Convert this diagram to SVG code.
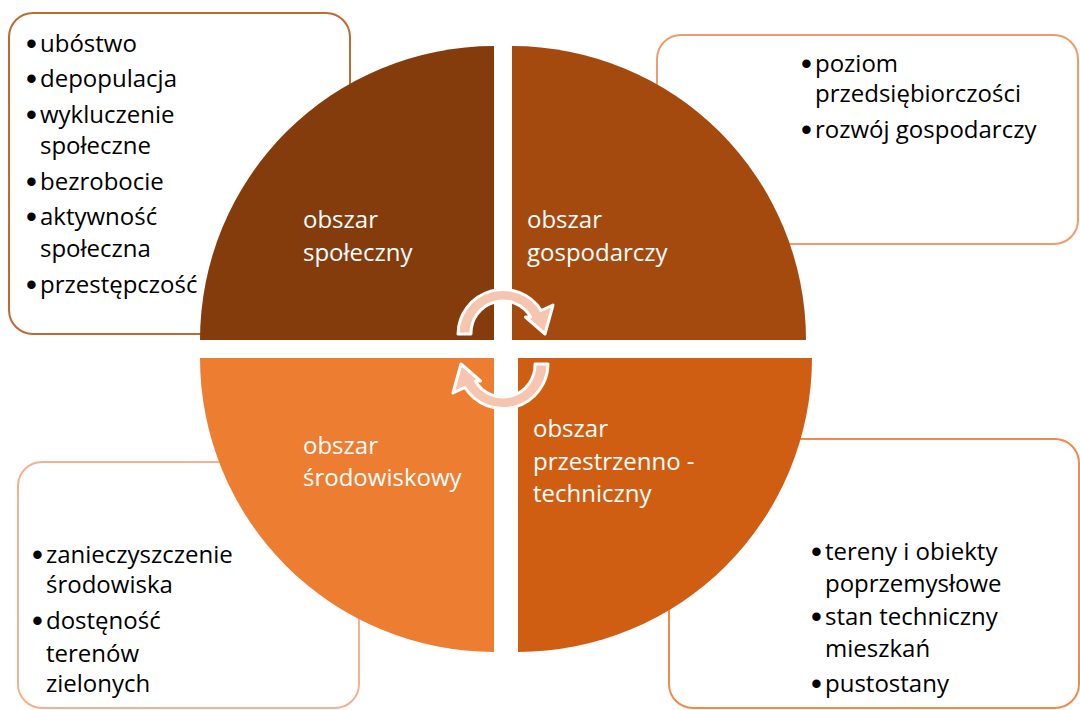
<svg xmlns="http://www.w3.org/2000/svg" width="1080" height="710" viewBox="0 0 1080 710">
<style>
.t{font-family:"Open Sans","Liberation Sans",sans-serif;font-size:24px;fill:#000}
.b{font-family:"Liberation Sans",Arial,sans-serif;font-size:31px;fill:#000}
.w{fill:#fff}
.box{fill:#fff;stroke-width:2}
.arr{fill:#F5C5B0;stroke:#fff;stroke-width:3;stroke-linejoin:round}
</style>
<rect width="1080" height="710" fill="#fff"/>
<g id="box-spoleczny">
<rect class="box" x="9" y="13" width="341" height="321" rx="24" stroke="#BF6A33"/>
<text class="b" x="26" y="54">•</text><text class="t" x="40" y="52">ubóstwo</text>
<text class="b" x="26" y="89">•</text><text class="t" x="40" y="87">depopulacja</text>
<text class="b" x="26" y="125">•</text><text class="t" x="40" y="123">wykluczenie</text>
<text class="t" x="40" y="154">społeczne</text>
<text class="b" x="26" y="192">•</text><text class="t" x="40" y="190">bezrobocie</text>
<text class="b" x="26" y="227">•</text><text class="t" x="40" y="225">aktywność</text>
<text class="t" x="40" y="257">społeczna</text>
<text class="b" x="26" y="295">•</text><text class="t" x="40" y="293">przestępczość</text>
</g>
<g id="box-gospodarczy">
<rect class="box" x="657" y="35" width="421" height="209" rx="24" stroke="#EE9B6E"/>
<text class="b" x="801" y="74">•</text><text class="t" x="815" y="72">poziom</text>
<text class="t" x="815" y="102">przedsiębiorczości</text>
<text class="b" x="801" y="140">•</text><text class="t" x="815" y="138">rozwój gospodarczy</text>
</g>
<g id="box-srodowiskowy">
<rect class="box" x="18" y="462" width="341" height="246" rx="24" stroke="#F2B28E"/>
<text class="b" x="32" y="565">•</text><text class="t" x="46" y="563">zanieczyszczenie</text>
<text class="t" x="46" y="593">środowiska</text>
<text class="b" x="32" y="631">•</text><text class="t" x="46" y="629">dostęność</text>
<text class="t" x="46" y="662">terenów</text>
<text class="t" x="46" y="692">zielonych</text>
</g>
<g id="box-techniczny">
<rect class="box" x="669" y="439" width="410" height="269" rx="24" stroke="#EE8B4C"/>
<text class="b" x="811" y="562">•</text><text class="t" x="825" y="560">tereny i obiekty</text>
<text class="t" x="825" y="592">poprzemysłowe</text>
<text class="b" x="811" y="627">•</text><text class="t" x="825" y="625">stan techniczny</text>
<text class="t" x="825" y="657">mieszkań</text>
<text class="b" x="811" y="694">•</text><text class="t" x="825" y="692">pustostany</text>
</g>
<g id="q-spoleczny">
<path d="M494 340 L200 340 A294 294 0 0 1 494 46 Z" fill="#843C0C"/>
<text class="t w" x="303" y="228">obszar</text>
<text class="t w" x="303" y="261">społeczny</text>
</g>
<g id="q-gospodarczy">
<path d="M512 340 L512 46 A294 294 0 0 1 806 340 Z" fill="#A54A0F"/>
<text class="t w" x="527" y="228">obszar</text>
<text class="t w" x="527" y="261">gospodarczy</text>
</g>
<g id="q-techniczny">
<path d="M518 358 L812 358 A294 294 0 0 1 518 652 Z" fill="#D05E12"/>
<text class="t w" x="533" y="437">obszar</text>
<text class="t w" x="533" y="470">przestrzenno -</text>
<text class="t w" x="533" y="502">techniczny</text>
</g>
<g id="q-srodowiskowy">
<path d="M494 358 L494 652 A294 294 0 0 1 200 358 Z" fill="#ED7D31"/>
<text class="t w" x="303" y="454">obszar</text>
<text class="t w" x="303" y="486">środowiskowy</text>
</g>
<g id="connectors">
<path class="arr" d="M458 334 A45 45 0 0 1 541.1 310.5 L553 305 L545 334 L525.5 317 L530.7 317 A32 32 0 0 0 471 334 Z"/>
<path class="arr" transform="rotate(180 503 349)" d="M458 334 A45 45 0 0 1 541.1 310.5 L553 305 L545 334 L525.5 317 L530.7 317 A32 32 0 0 0 471 334 Z"/>
</g>
</svg>
